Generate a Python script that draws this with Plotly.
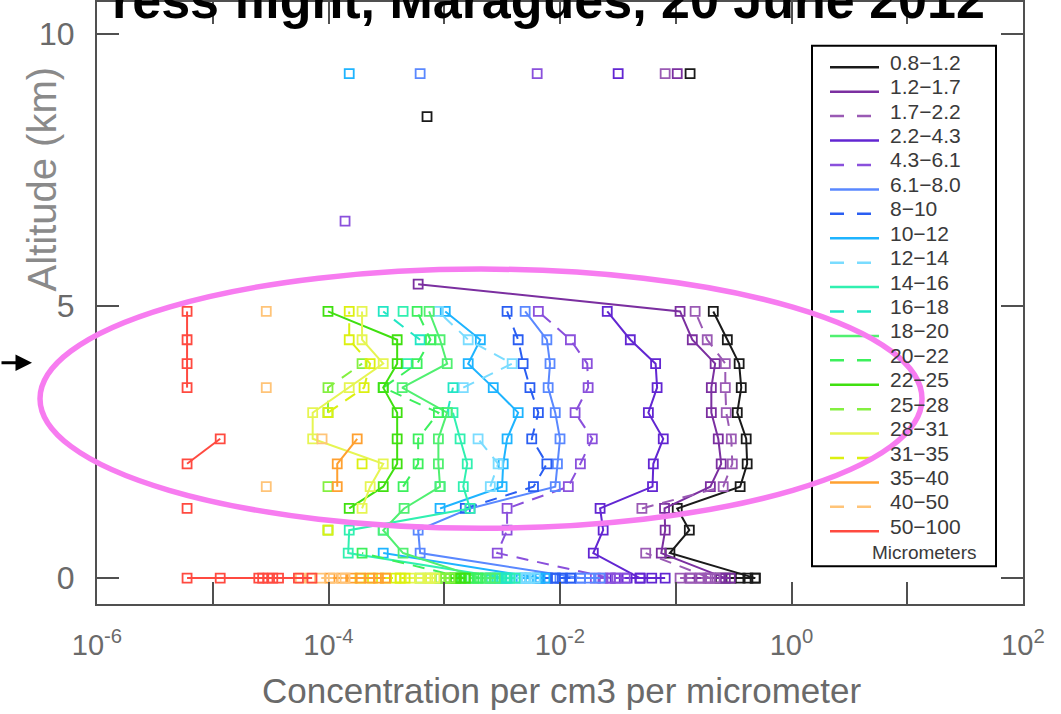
import plotly.graph_objects as go

# ---------------- data (concentration per cm3 per micrometer) ----------------
ALT_PROFILE = [0, 0.46, 0.88, 1.28, 1.68, 2.1, 2.56, 3.04, 3.5, 3.94, 4.38, 4.9, 5.4]
ALT_HIGH = [6.56, 8.48, 9.27]

BINS = ["0.8\u22121.2", "1.2\u22121.7", "1.7\u22122.2", "2.2\u22124.3", "4.3\u22126.1",
        "6.1\u22128.0", "8\u221210", "10\u221212", "12\u221214", "14\u221216",
        "16\u221218", "18\u221220", "20\u221222", "22\u221225", "25\u221228",
        "28\u221231", "31\u221235", "35\u221240", "40\u221250", "50\u2212100"]

COLORS = ["#1a1a1a", "#7b2fa0", "#9a5ab4", "#6226d2", "#8a50dc",
          "#5a88ff", "#2a5ef2", "#1eb4ff", "#7adcff", "#30f0b0",
          "#22e6c4", "#50f070", "#3cf05c", "#40e010", "#84f040",
          "#e6f552", "#dcf010", "#ffa030", "#ffc478", "#ff4a40"]

DASHED = [False, False, True, False, True, False, True, False, True, False,
          True, False, True, False, True, False, True, False, True, False]

P_0p8 = [0.486, 0.089, 0.131, 0.103, 0.360, 0.414, 0.406, 0.340, 0.368, 0.353, 0.279, 0.211, None]
P_1p2 = [0.268, 0.075, 0.081, 0.080, 0.199, 0.247, 0.233, 0.203, 0.203, 0.219, 0.139, 0.109, 5.95e-4]
P_1p7 = [0.199, 0.055, None, 0.051, 0.257, 0.308, 0.302, 0.273, 0.268, 0.268, 0.187, 0.147, None]
P_2p2 = [0.049, 0.0194, 0.0236, 0.0222, 0.063, 0.064, 0.078, 0.058, 0.069, 0.067, 0.0405, 0.0256, None]
P_4p3 = [0.0272, 0.00287, 0.00349, 0.00349, 0.0118, 0.0150, 0.0190, 0.0135, 0.0175, 0.0172, 0.0123, 0.0065, None]
P_6p1 = [0.0150, 6.19e-4, 5.95e-4, 1.67e-3, 9.1e-3, 9.5e-3, 0.010, 9.1e-3, 7.9e-3, 8.2e-3, 7.7e-3, 5.0e-3, None]
P_8 = [9.1e-3, None, None, 1.52e-3, 5.9e-3, 7.7e-3, 5.7e-3, 6.5e-3, 5.5e-3, 4.8e-3, 4.35e-3, 3.49e-3, None]
P_10 = [6.7e-3, 2.97e-4, None, 9.2e-4, 3.16e-3, 3.23e-3, 3.49e-3, 4.35e-3, 2.65e-3, 1.61e-3, 2.05e-3, 1.02e-3, None]
P_12 = [5.0e-3, None, None, None, 2.5e-3, 2.92e-3, 1.96e-3, None, 1.46e-3, 3.86e-3, 1.61e-3, 8.9e-4, None]
P_14 = [3.36e-3, 1.48e-4, 1.51e-4, 1.67e-3, 1.46e-3, 1.58e-3, 1.37e-3, 1.19e-3, None, 4.78e-4, None, 4.41e-4, None]
P_16 = [2.5e-3, None, 2.97e-4, None, 9.2e-4, None, None, 1.06e-3, 1.19e-3, None, 6.19e-4, 2.97e-4, None]
P_18 = [2.05e-3, 4.41e-4, 2.97e-4, 4.50e-4, 9.2e-4, 8.9e-4, 8.9e-4, 1.06e-3, 4.33e-4, 1.06e-3, 9.2e-4, 7.4e-4, None]
P_20 = [1.52e-3, 1.95e-4, None, None, 4.41e-4, 5.95e-4, 5.95e-4, 8.9e-4, 2.97e-4, 5.83e-4, 7.6e-4, 5.83e-4, None]
P_22 = [1.24e-3, None, None, 1.51e-4, 2.97e-4, 3.92e-4, 3.92e-4, 3.92e-4, 2.97e-4, 3.92e-4, 3.92e-4, 9.9e-5, None]
P_25 = [9.2e-4, None, 9.9e-5, None, 9.9e-5, None, None, 9.9e-5, 9.9e-5, 1.95e-4, None, None, None]
P_28 = [7.6e-4, None, None, 1.95e-4, 2.29e-4, 2.97e-4, 7.3e-5, 7.3e-5, 1.51e-4, 2.97e-4, 1.95e-4, 1.95e-4, None]
P_31 = [4.16e-4, None, 9.9e-5, None, None, 1.95e-4, None, 9.9e-5, 2.03e-4, 2.29e-4, 1.51e-4, 1.51e-4, None]
P_35 = [None, None, None, None, 1.19e-4, 1.19e-4, 1.77e-4, None, None, None, None, None, None]
P_40 = [None, None, None, None, 2.9e-5, None, 8.8e-5, None, 2.9e-5, None, None, 2.9e-5, None]
P_50 = [None, None, None, 6.0e-6, None, 6.0e-6, 1.16e-5, None, 6.0e-6, 6.0e-6, 6.0e-6, 6.0e-6, None]

# isolated high-altitude samples (6.56, 8.48, 9.27 km)
H_0p8 = [None, 7.1e-4, 0.133]
H_1p2 = [None, None, 0.103]
H_1p7 = [None, None, 0.081]
H_2p2 = [None, None, 0.0318]
H_4p3 = [1.39e-4, None, 0.00635]
H_6p1 = [None, None, 6.19e-4]
H_10 = [None, None, 1.51e-4]

# repeated samples at the surface (0 km)
S_0p8 = [0.243, 0.30, 0.36, 0.42, 0.486]
S_1p2 = [0.133, 0.165, 0.199, 0.24, 0.296]
S_1p7 = [0.109, 0.135, 0.163, 0.19, 0.219]
S_2p2 = [0.030, 0.038, 0.0494, 0.062, 0.081]
S_4p3 = [0.0202, 0.0235, 0.0272, 0.031, 0.0366]
S_6p1 = [0.010, 0.0125, 0.015, 0.018, 0.0222]
S_8 = [6.7e-3, 7.8e-3, 9.1e-3, 1.05e-2, 1.23e-2]
S_10 = [4.62e-3, 5.0e-3, 5.5e-3, 6.4e-3, 7.4e-3]
S_12 = [3.71e-3, 4.3e-3, 5.0e-3, 5.5e-3, 6.1e-3]
S_14 = [2.75e-3, 3.0e-3, 3.36e-3, 3.7e-3, 4.09e-3]
S_16 = [2.26e-3, 2.55e-3, 2.87e-3, 3.15e-3, 3.49e-3]
S_18 = [1.67e-3, 1.95e-3, 2.26e-3, 2.5e-3, 2.75e-3]
S_20 = [1.24e-3, 1.42e-3, 1.61e-3, 1.8e-3, 1.96e-3]
S_22 = [1.02e-3, 1.12e-3, 1.24e-3, 1.38e-3, 1.52e-3]
S_25 = [6.19e-4, 7.6e-4, 9.2e-4, 1.02e-3, 1.12e-3]
S_28 = [4.16e-4, 5.1e-4, 6.19e-4, 7.2e-4, 8.3e-4]
S_31 = [1.87e-4, 2.4e-4, 3.1e-4, 3.8e-4, 4.59e-4]
S_35 = [1.03e-4, 1.3e-4, 1.6e-4, 1.9e-4, 2.29e-4, 2.7e-4, 3.1e-4]
S_40 = [5.7e-5, 7.0e-5, 8.5e-5, 1.1e-4, 1.39e-4]
S_50 = [6.0e-6, 1.16e-5, 2.5e-5, 2.7e-5, 3.0e-5, 3.3e-5, 3.7e-5, 5.5e-5, 7.2e-5]

PROFILES = [P_0p8, P_1p2, P_1p7, P_2p2, P_4p3, P_6p1, P_8, P_10, P_12, P_14,
            P_16, P_18, P_20, P_22, P_25, P_28, P_31, P_35, P_40, P_50]
HIGHS = [H_0p8, H_1p2, H_1p7, H_2p2, H_4p3, H_6p1, None, H_10, None, None,
         None, None, None, None, None, None, None, None, None, None]
SURFACES = [S_0p8, S_1p2, S_1p7, S_2p2, S_4p3, S_6p1, S_8, S_10, S_12, S_14,
            S_16, S_18, S_20, S_22, S_25, S_28, S_31, S_35, S_40, S_50]

# ---------------- figure ----------------
W, H = 1061, 714
ML, MR, MT, MB = 97, 38, 0, 110
PW, PH = W - ML - MR, H - MT - MB
FONT = "Liberation Sans"


def px(xpix):
    return (xpix - ML) / PW


def py(ypix):
    return (H - MB - ypix) / PH


fig = go.Figure()

for col, dashed, prof, high, surf in zip(COLORS, DASHED, PROFILES, HIGHS, SURFACES):
    dash = "12px,9px" if dashed else "solid"
    marker = dict(symbol="square-open", size=9, color=col, line=dict(width=1.8, color=col))
    fig.add_trace(go.Scatter(
        x=surf, y=[0] * len(surf), mode="lines+markers",
        line=dict(color=col, width=2, dash=dash), marker=marker,
        showlegend=False, hoverinfo="skip"))
    fig.add_trace(go.Scatter(
        x=prof, y=ALT_PROFILE, mode="lines+markers",
        line=dict(color=col, width=2, dash=dash), marker=marker,
        connectgaps=False, showlegend=False))
    if high is not None:
        fig.add_trace(go.Scatter(
            x=high, y=ALT_HIGH, mode="markers", marker=marker,
            showlegend=False, hoverinfo="skip"))

major_vals = [10.0 ** e for e in range(-6, 3, 2)]
major_text = ["10<sup>%d</sup>" % e for e in range(-6, 3, 2)]
minor_vals = [10.0 ** e for e in range(-5, 2, 2)]

axis_common = dict(showgrid=False, zeroline=False, showline=True, linecolor="#505050",
                   linewidth=2, ticks="inside", ticklen=22, tickwidth=2, tickcolor="#505050",
                   mirror="ticks")

fig.update_xaxes(type="log", range=[-6, 2], tickvals=major_vals, ticktext=major_text,
                 minor=dict(tickvals=minor_vals, ticks="inside", ticklen=22, tickwidth=2,
                            tickcolor="#505050", showgrid=False),
                 tickfont=dict(family=FONT, size=29, color="#6a6a6a"),
                 ticklabelstandoff=14, **axis_common)
fig.update_yaxes(range=[-0.476, 10.586], tickvals=[0, 5, 10], ticktext=["0", "5", "10"],
                 tickfont=dict(family=FONT, size=32, color="#6a6a6a"),
                 ticklabelstandoff=14, **axis_common)

shapes = [
    # legend frame
    dict(type="rect", xref="paper", yref="paper", x0=px(812), x1=px(996), y0=py(566), y1=py(44),
         line=dict(color="black", width=2), fillcolor="white", layer="above"),
]

annotations = [
    dict(text="Altitude (km)", xref="paper", yref="paper", x=px(42), y=py(178),
         textangle=-90, showarrow=False, xanchor="center", yanchor="middle",
         font=dict(family=FONT, size=40, color="#8a8a8a")),
    dict(text="Concentration per cm3 per micrometer", xref="paper", yref="paper",
         x=px(561), y=py(691), showarrow=False, xanchor="center", yanchor="middle",
         font=dict(family=FONT, size=35, color="#6a6a6a")),
    dict(text="ress flight, Maragues, 20 June 2012", xref="paper", yref="paper",
         x=px(548), y=py(29), showarrow=False, xanchor="center", yanchor="bottom",
         font=dict(family=FONT, size=52, color="black", weight="bold")),
    dict(text="", xref="paper", yref="paper", x=px(32), y=py(362), ax=-34, ay=0,
         showarrow=True, arrowhead=2, arrowsize=1.1, arrowwidth=3, arrowcolor="black"),
]

# hand-made legend (line samples + labels) built from the series lists
LEG_TOP, LEG_STEP = 60.5, 24.5
for i, (name, col, dashed) in enumerate(zip(BINS, COLORS, DASHED)):
    yc = LEG_TOP + i * LEG_STEP
    shapes.append(dict(type="line", xref="paper", yref="paper",
                       x0=px(830), x1=px(879), y0=py(yc + 5), y1=py(yc + 5),
                       line=dict(color=col, width=2.5, dash="14px,13px" if dashed else "solid"),
                       layer="above"))
    annotations.append(dict(text=name, xref="paper", yref="paper", x=px(888), y=py(yc),
                            showarrow=False, xanchor="left", yanchor="middle",
                            font=dict(family=FONT, size=21, color="#3a3a3a")))
annotations.append(dict(text="Micrometers", xref="paper", yref="paper", x=px(924), y=py(552),
                        showarrow=False, xanchor="center", yanchor="middle",
                        font=dict(family=FONT, size=19, color="#3a3a3a")))

# highlight ellipse (drawn last)
shapes.append(dict(type="circle", xref="paper", yref="paper", x0=px(40), x1=px(922),
                   y0=py(528), y1=py(268), line=dict(color="#f77cf0", width=5.5), layer="above"))

fig.update_layout(
    width=W, height=H,
    margin=dict(l=ML, r=MR, t=MT, b=MB, pad=0),
    paper_bgcolor="white", plot_bgcolor="white",
    showlegend=False,
    shapes=shapes, annotations=annotations,
)

fig.write_html("out.html")
